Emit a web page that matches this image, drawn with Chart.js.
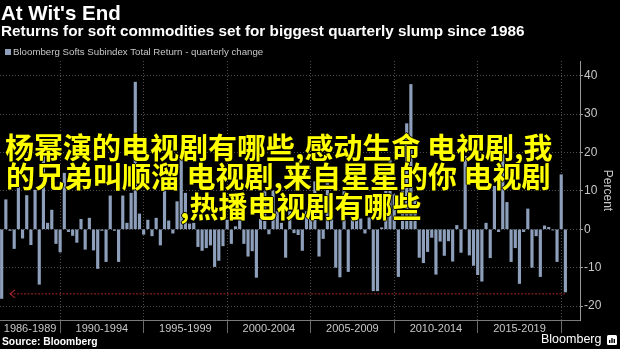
<!DOCTYPE html>
<html><head><meta charset="utf-8">
<script src="https://cdn.jsdelivr.net/npm/chart.js@4.4.1/dist/chart.umd.min.js"></script>
<style>
html,body{margin:0;padding:0;background:#000;}
#stage{position:relative;width:620px;height:349px;overflow:hidden;background:#000;font-family:"Liberation Sans",Arial,sans-serif;}
#c{position:absolute;left:0;top:0;}
.t{position:absolute;white-space:nowrap;color:#fff;}
#title{left:1px;top:3px;font-weight:bold;font-size:20.5px;line-height:20px;}
#subtitle{left:1px;top:23px;font-weight:bold;font-size:15.3px;line-height:15px;}
#legend{left:13px;top:46px;font-size:9.7px;line-height:12px;color:#c8c8c8;}
#legsq{position:absolute;left:5px;top:49px;width:6px;height:6px;background:#8d9fba;}
#source{left:2px;top:336px;font-weight:bold;font-size:10.3px;line-height:12px;}
#logo{left:541px;top:332px;font-size:12.5px;line-height:15px;}
#logoicon{position:absolute;left:607px;top:335px;width:10px;height:10px;}
.cn{position:absolute;white-space:nowrap;color:#ffff00;font-family:"Noto Sans CJK SC",sans-serif;font-weight:bold;font-size:29px;line-height:30px;
text-shadow:1px 0 0 #000,-1px 0 0 #000,0 1px 0 #000,0 -1px 0 #000;}
</style>
</head>
<body>
<div id="stage">
<canvas id="c" width="620" height="349"></canvas>
<div class="t" id="title">At Wit's End</div>
<div class="t" id="subtitle">Returns for soft commodities set for biggest quarterly slump since 1986</div>
<div id="legsq"></div>
<div class="t" id="legend">Bloomberg Softs Subindex Total Return - quarterly change</div>
<div class="t" id="source">Source: Bloomberg</div>
<div class="t" id="logo">Bloomberg</div>
<svg id="logoicon" viewBox="0 0 10 10"><rect x="0" y="0" width="10" height="10" rx="1.5" fill="#fff"/><rect x="2" y="5" width="1.4" height="3" fill="#000"/><rect x="4.3" y="3" width="1.4" height="5" fill="#000"/><rect x="6.6" y="4" width="1.4" height="4" fill="#000"/></svg>
<div class="cn" style="left:5px;top:131px;">杨幂演的电视剧有哪些,感动生命 电视剧,我</div>
<div class="cn" style="left:6px;top:160px;">的兄弟叫顺溜 电视剧,来自星星的你 电视剧</div>
<div class="cn" style="left:180px;top:190px;">,热播电视剧有哪些</div>
</div>
<script>
// ---- data ----
const firstYear = 1986;
const firstQuarter = 2;           // series starts 1986 Q2
const softsReturn = [
 -18.0, 7.7, -0.3, -5.0, 10.9, -2.3, 8.8, -4.0, 10.2, -14.3, 19.0, 1.6, 5.0, -3.7, -5.9,
 14.6, -0.6, -1.6, -3.4, 2.6, -5.2, 2.9, -5.4, -10.2, -0.3, -8.4, 8.7, -0.3,
 -8.4, 8.7, 1.6, 9.4, 38.3, 4.0, -1.3, 2.4, -1.7, 2.9, -4.1, 10.0, 2.2, -1.0, 7.2, 18.3,
 9.4, 1.4, 1.6, -4.5, -5.5, -4.8, -4.1, -9.7, -8.1, -4.3, 2.4, -3.7,
 0.7, 2.4, -3.7, -7.0, -5.6, -12.5, 2.6, 9.8, -1.2, 10.0, 4.6, 1.6, -7.3, 4.6, -0.9, -1.4,
 -5.5, 4.6, 3.7, 12.4, -7.0, -2.4, 13.3, 5.5, -9.9, -12.4, 9.8, -11.0,
 5.0, 2.7, 2.7, -1.0, 3.0, -16.0, -16.0, 0.4, 12.0, 18.0, 9.0, -12.3, 10.0, 27.5, 37.7, 8.0,
 -7.3, -8.7, -5.8, -2.1, -11.7, -3.1, -6.8, -3.0, -8.3, 1.0, -6.0, 19.0,
 -6.7, -9.4, -11.8, -13.5, 1.6, -7.4, 11.2, -0.6, 20.5, 7.0, -8.4, -4.8, -14.1, -0.6,
 5.3, -9.9, -1.7, -12.3, 0.9, 0.5, -0.2, -8.4, 14.2, -16.3
];
const quarterLabels = softsReturn.map((_, i) => {
  const n = firstQuarter - 1 + i;
  return (firstYear + Math.floor(n / 4)) + ' Q' + (n % 4 + 1);
});
const periodLabels = ['1986-1989','1990-1994','1995-1999','2000-2004','2005-2009','2010-2014','2015-2019'];
const periodStartYears = [1986, 1990, 1995, 2000, 2005, 2010, 2015];
const periodEndYear = 2020;
const yTicks = [-20, -10, 0, 10, 20, 30, 40];
const slumpLevel = [-16.8];

// ---- helpers ----
function quarterIndex(label) {            // quarter-end position, quarters since Jan 1986
  const [y, q] = label.split(' Q');
  return (Number(y) - firstYear) * 4 + Number(q);
}
const yearPos = y => (y - firstYear) * 4;
const xMin = 1.6, xMax = 140.5;
const boundaries = periodStartYears.slice(1).map(yearPos).concat([yearPos(periodEndYear)]);
const centers = periodStartYears.map((y, i) => (Math.max(xMin, yearPos(y)) + boundaries[i]) / 2);

const barColor = '#8d9fba';
const txt = '#c8c8c8';
Chart.defaults.font.family = '"Liberation Sans", Arial, sans-serif';

const arrowPlugin = {
  id: 'arrowHead',
  afterDatasetsDraw(chart) {
    const meta = chart.getDatasetMeta(1);
    const p = meta.data[0];
    if (!p) return;
    const ctx = chart.ctx;
    ctx.save();
    ctx.strokeStyle = '#a3242a';
    ctx.lineWidth = 1.2;
    ctx.beginPath();
    ctx.moveTo(p.x + 5, p.y - 4);
    ctx.lineTo(p.x, p.y);
    ctx.lineTo(p.x + 5, p.y + 4);
    ctx.stroke();
    ctx.restore();
  }
};

new Chart(document.getElementById('c'), {
  type: 'bar',
  data: {
    datasets: [{
      label: 'Bloomberg Softs Subindex Total Return - quarterly change',
      data: softsReturn.map((v, i) => ({ x: quarterIndex(quarterLabels[i]), y: v })),
      backgroundColor: barColor,
      borderWidth: 0,
      barThickness: 2.5
    }, {
      type: 'line',
      data: [
        { x: quarterIndex(quarterLabels[2]), y: slumpLevel[0] },
        { x: quarterIndex(quarterLabels[quarterLabels.length - 1]), y: slumpLevel[0] }
      ],
      borderColor: '#a3242a',
      borderWidth: 1,
      borderDash: [2, 1.5],
      pointRadius: 0,
      fill: false
    }]
  },
  options: {
    responsive: false,
    animation: false,
    devicePixelRatio: 1,
    layout: { padding: { top: 61, bottom: 14, left: 0, right: 0 } },
    plugins: { legend: { display: false }, tooltip: { enabled: false } },
    scales: {
      x: {
        type: 'linear',
        offset: false,
        min: xMin, max: xMax,
        afterBuildTicks: s => {
          s.ticks = boundaries.concat(centers).sort((a, b) => a - b).map(v => ({ value: v }));
        },
        afterFit: s => { s.height = 15; s.paddingLeft = 0; s.paddingRight = 0; },
        grid: {
          offset: false,
          color: c => boundaries.includes(c.tick && c.tick.value) ? '#4d4d4d' : 'rgba(0,0,0,0)',
          tickColor: c => boundaries.includes(c.tick && c.tick.value) ? '#6a6a6a' : 'rgba(0,0,0,0)',
          tickLength: 13,
          lineWidth: 1,
          tickBorderDash: []
        },
        border: { display: true, color: '#7a7a7a', width: 1, dash: [1, 2] },
        ticks: {
          autoSkip: false, maxRotation: 0, minRotation: 0,
          padding: -11,
          color: txt,
          font: { size: 11 },
          callback: v => { const i = centers.indexOf(v); return i >= 0 ? periodLabels[i] : ''; }
        }
      },
      y: {
        position: 'right',
        min: -23.6, max: 43.8,
        afterBuildTicks: s => { s.ticks = yTicks.map(v => ({ value: v })); },
        afterFit: s => { s.width = 40; s.paddingTop = 0; s.paddingBottom = 0; },
        grid: { color: '#4d4d4d', tickColor: '#9a9a9a', tickLength: 3, lineWidth: 1, tickBorderDash: [] },
        border: { display: true, color: '#9a9a9a', width: 1, dash: [1, 2] },
        ticks: { color: txt, font: { size: 12 }, padding: 1, callback: v => String(v) },
        title: { display: true, text: 'Percent', color: txt, font: { size: 12 }, padding: { top: 5, bottom: 0 } }
      }
    }
  },
  plugins: [arrowPlugin]
});
</script>
</body></html>
